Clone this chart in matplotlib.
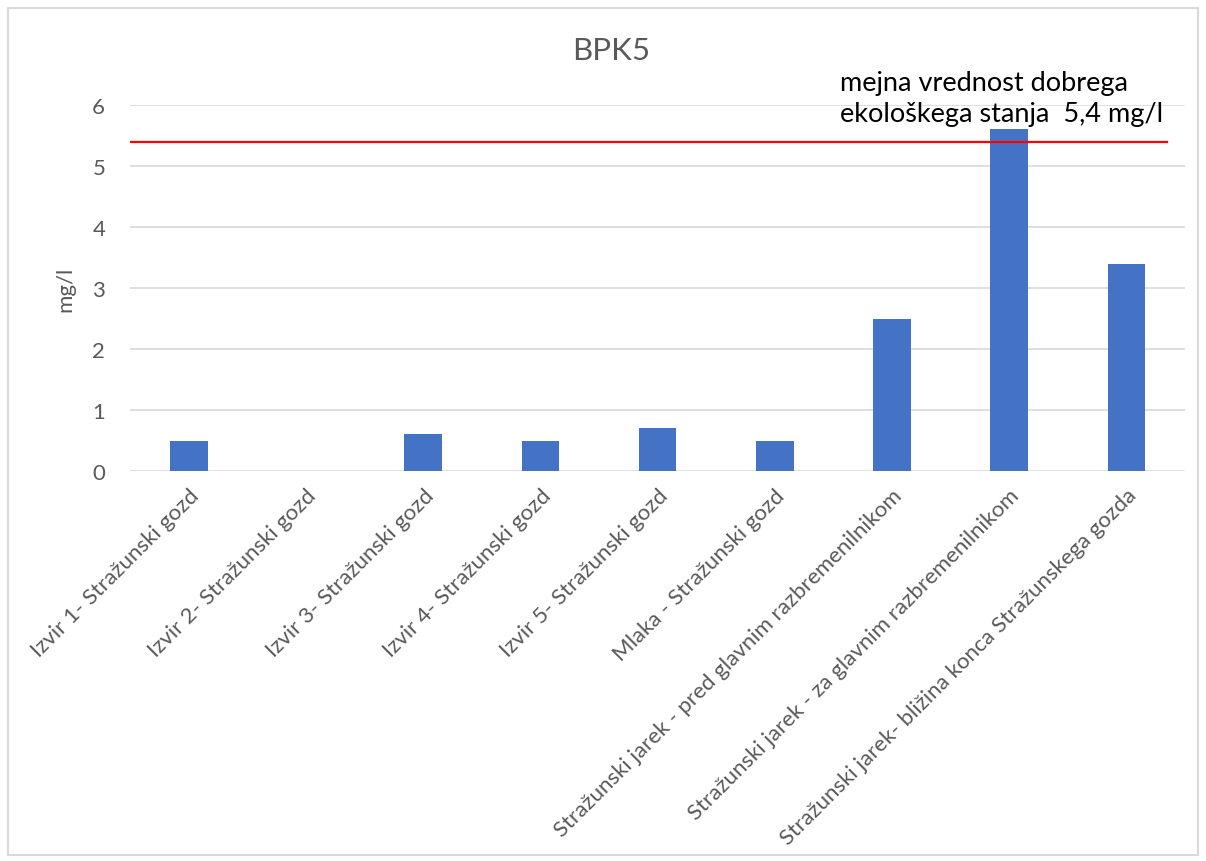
import matplotlib
matplotlib.use("Agg")
import matplotlib.pyplot as plt
from matplotlib.patches import Rectangle

plt.rcParams["font.family"] = ["Lato", "DejaVu Sans"]

sites = [
    "Izvir 1- Stražunski gozd",
    "Izvir 2- Stražunski gozd",
    "Izvir 3- Stražunski gozd",
    "Izvir 4- Stražunski gozd",
    "Izvir 5- Stražunski gozd",
    "Mlaka - Stražunski gozd",
    "Stražunski jarek - pred glavnim razbremenilnikom",
    "Stražunski jarek - za glavnim razbremenilnikom",
    "Stražunski jarek- bližina konca Stražunskega gozda",
]
bpk5 = [0.5, 0.0, 0.6, 0.5, 0.7, 0.5, 2.5, 5.6, 3.4]
limit = 5.4
limit_label = "mejna vrednost dobrega\nekološkega stanja  5,4 mg/l"

GREY = "#595959"
BLUE = "#4472C4"

fig = plt.figure(figsize=(12.06, 8.62), dpi=100)
ax = fig.add_axes([0.108, 0.4524, 0.8746, 0.4246])

x = range(len(sites))
ax.bar(x, bpk5, width=0.32, color=BLUE, zorder=2)
ax.plot([-0.5, 8.35], [limit, limit], color="#FF0000", lw=1.6, zorder=3)

ax.set_xlim(-0.5, len(sites) - 0.5)
ax.set_ylim(0, 6)
ax.set_yticks(range(7))
ax.yaxis.grid(True, color="#D9D9D9", lw=1.2, zorder=0)
ax.set_axisbelow(True)
for s in ax.spines.values():
    s.set_visible(False)
ax.tick_params(length=0, labelsize=16, colors=GREY, pad=18)
ax.tick_params(axis="x", pad=10)
ax.set_xticks(list(x))
ax.set_xticklabels(sites, rotation=45, ha="right", rotation_mode="anchor")
ax.set_ylabel("mg/l", fontsize=16, color=GREY, labelpad=12)

fig.text(0.507, 0.941, "BPK5", ha="center", va="center", fontsize=22.5, color=GREY)
fig.text(0.6965, 0.885, limit_label, ha="left", va="center", fontsize=19.5,
         color="black", linespacing=1.3)

fig.patches.append(Rectangle((0.007, 0.007), 0.986, 0.983, transform=fig.transFigure,
                             fill=False, edgecolor="#D9D9D9", lw=1.5))

fig.savefig("out.png", dpi=100)
